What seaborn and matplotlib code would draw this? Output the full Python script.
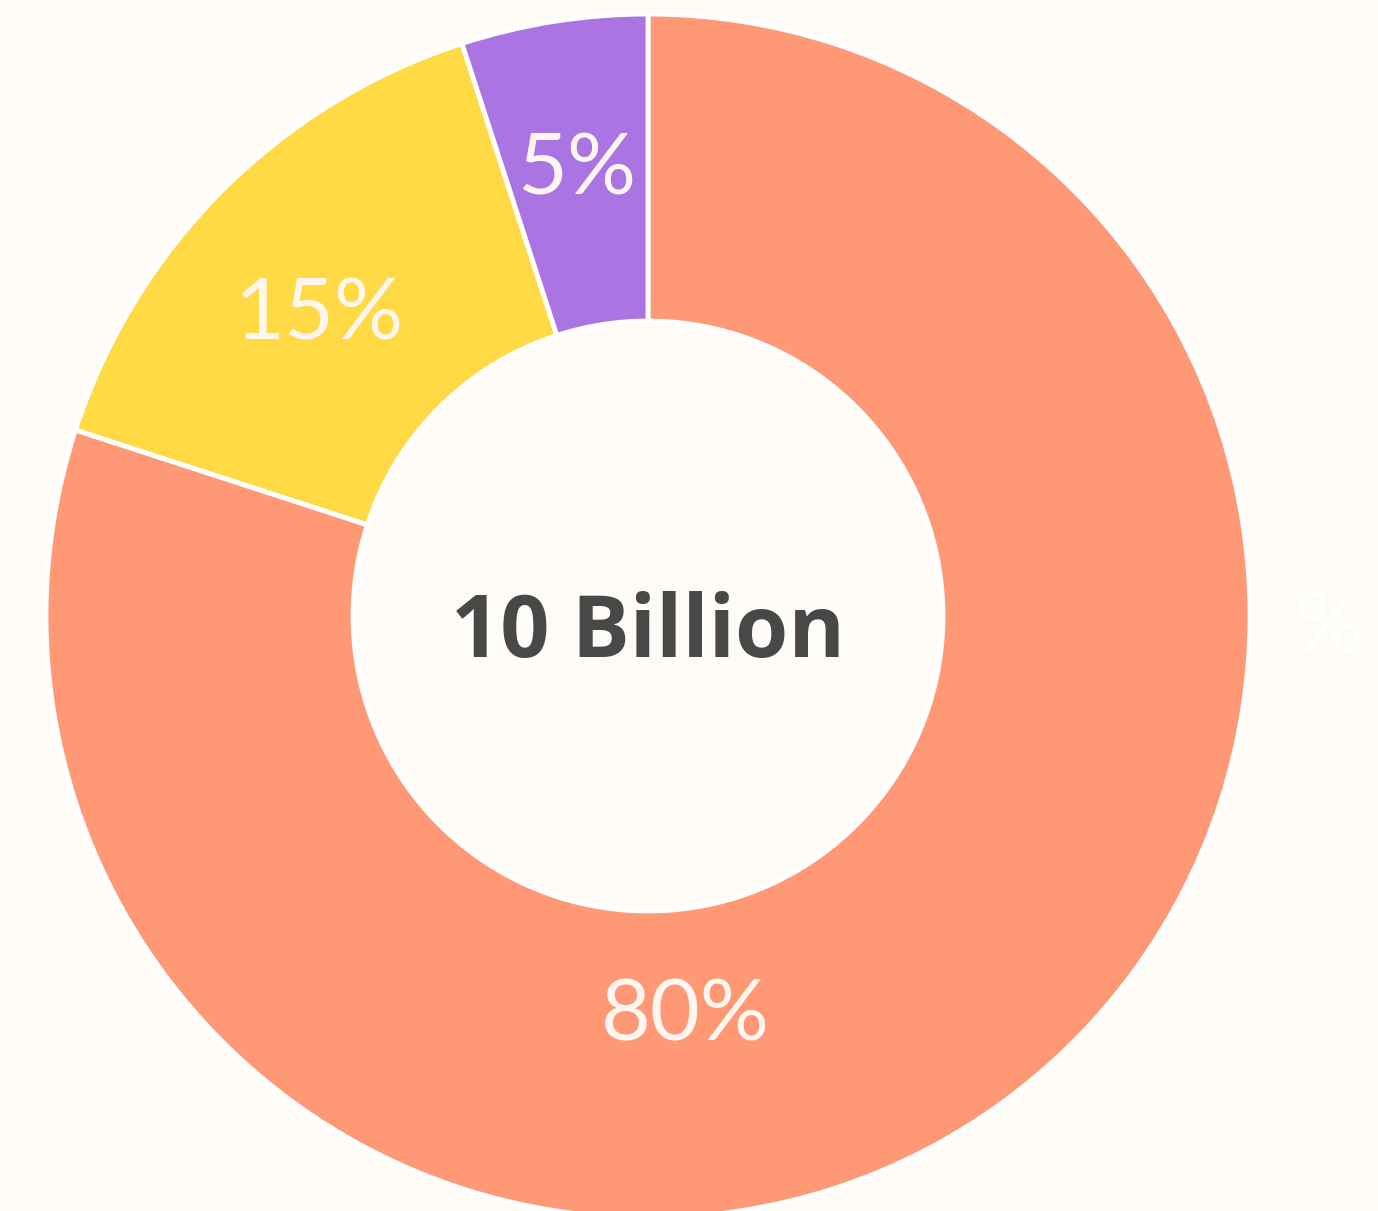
import matplotlib
matplotlib.use("Agg")
import matplotlib.pyplot as plt
import seaborn as sns
import numpy as np

categories = ["A", "B", "C"]
values = [80, 15, 5]
pct_labels = ["80%", "15%", "5%"]
colors = ["#FF9874", "#FFDA45", "#AB74E3"]
center_text = "10 Billion"
bg = "#FFFCF7"

sns.set_theme(style="white")
plt.rcParams["font.family"] = ["Lato", "DejaVu Sans"]

fig = plt.figure(figsize=(13.78, 12.11), dpi=100, facecolor=bg)
ax = fig.add_axes([0, 0, 1, 1])
ax.set_facecolor(bg)

R = 1.0
wedges, _ = ax.pie(values, colors=colors, startangle=90, counterclock=False,
                   radius=R,
                   wedgeprops=dict(width=0.51, edgecolor="white", linewidth=3.5))

# label positions (x, y) in data units, relative to centre
label_xy = [(0.062, -0.665), (-0.545, 0.50), (-0.118, 0.74)]
for txt, (x, y) in zip(pct_labels, label_xy):
    ax.text(x, y, txt, ha="center", va="center",
            fontsize=62, color="#FFF6F0", family=["Lato", "DejaVu Sans"])

# partially hidden label on the right
ax.text(1.13, -0.02, "%", ha="center", va="center", fontsize=62,
        color="#FFFFFF", family=["Lato", "DejaVu Sans"], zorder=0)

ax.text(0.0, -0.03, center_text, ha="center", va="center", fontsize=62,
        fontweight="bold", color="#484848", family=["Open Sans", "DejaVu Sans"])

scale = 602
ax.set_xlim(-648 / scale, (1378 - 648) / scale)
ax.set_ylim(-(1211 - 616) / scale, 616 / scale)
ax.set_aspect("auto")
ax.axis("off")

fig.savefig("out.png", dpi=100, facecolor=bg)
